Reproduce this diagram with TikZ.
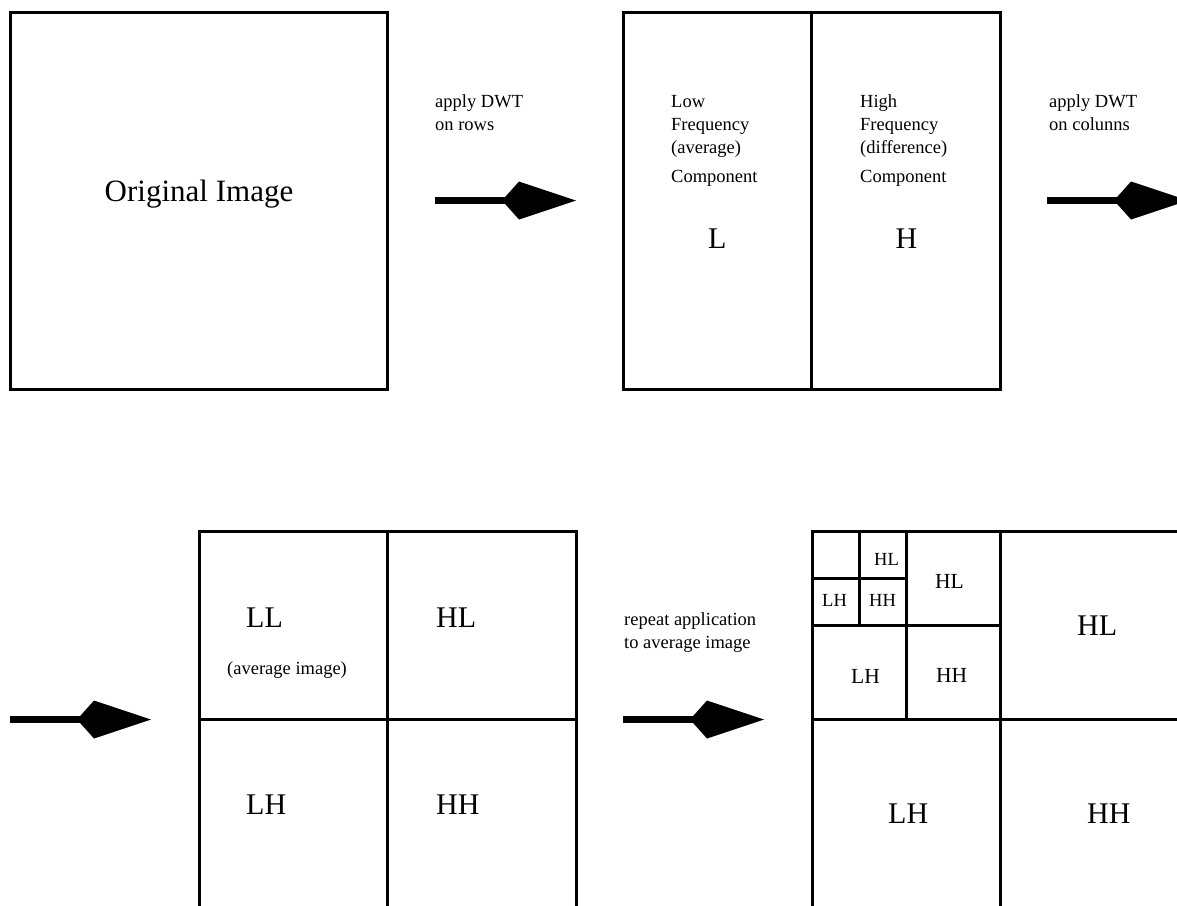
\documentclass[tikz,border=0pt]{standalone}
\usepackage{fontspec}
\setmainfont{Liberation Serif}
\usetikzlibrary{arrows.meta,positioning}

\begin{document}
\begin{tikzpicture}[x=1pt,y=-1pt,
  cell/.style 2 args={rectangle,draw,line width=3pt,inner sep=0pt,outer sep=0pt,minimum width=#1,minimum height=#2},
  huge/.style={font=\fontsize{31}{37}\selectfont,inner sep=0pt,anchor=base},
  big/.style={font=\fontsize{30}{36}\selectfont,inner sep=0pt,anchor=base west},
  mid/.style={font=\fontsize{21.5}{26}\selectfont,inner sep=0pt,anchor=base west},
  small/.style={font=\fontsize{18.5}{23}\selectfont,inner sep=0pt,anchor=base west,align=left},
  dwtarrow/.style={line width=6.5pt,-{Kite[length=74pt,width=38pt,inset=17pt,line width=0pt]}},
]
\useasboundingbox (0,0) rectangle (1177,905);
\clip (0,0) rectangle (1177,905);

% TOP ROW: ORIGINAL + ROW TRANSFORM
\node[cell={377pt}{377pt}] (orig) at (199,200.5) {};
\node[cell={188.5pt}{377pt}] (lowband) at (717.25,200.5) {};
\node[cell={188.5pt}{377pt},right=0pt of lowband] (highband) {};

% BOTTOM LEFT: ONE LEVEL
\node[cell={188.5pt}{188.5pt}] (llband) at (293.25,625.25) {};
\node[cell={188.5pt}{188.5pt},right=0pt of llband] (hlband) {};
\node[cell={188.5pt}{188.5pt},below=0pt of llband] (lhband) {};
\node[cell={188.5pt}{188.5pt},right=0pt of lhband] (hhband) {};

% BOTTOM RIGHT: THREE LEVELS
\node[cell={188.5pt}{188.5pt}] (rhl) at (1094.75,625.25) {};
\node[cell={188.5pt}{188.5pt}] (rlh) at (906.25,813.75) {};
\node[cell={188.5pt}{188.5pt},right=0pt of rlh] (rhh) {};
\node[cell={94.25pt}{94.25pt}] (mhl) at (953.375,578.125) {};
\node[cell={94.25pt}{94.25pt}] (mlh) at (859.125,672.375) {};
\node[cell={94.25pt}{94.25pt},right=0pt of mlh] (mhh) {};
\node[cell={47.125pt}{47.125pt}] (sll) at (835.5625,554.5625) {};
\node[cell={47.125pt}{47.125pt},right=0pt of sll] (shl) {};
\node[cell={47.125pt}{47.125pt},below=0pt of sll] (slh) {};
\node[cell={47.125pt}{47.125pt},right=0pt of slh] (shh) {};

% LABELS (multi-line ones sit on their last baseline)
\node[huge] (origlbl) at (199,201) {Original Image};
\node[small] (lowlbl) at (671,182) {Low\\Frequency\\(average)\\[6pt]Component};
\node[small] (highlbl) at (860,182) {High\\Frequency\\(difference)\\[6pt]Component};
\node[big,anchor=base] (ltxt) at (717.25,248) {L};
\node[big,anchor=base] (htxt) at (906.5,248) {H};
\node[big] (lltxt) at (246,627) {LL};
\node[small] (avgtxt) at (227,674) {(average image)};
\node[big] (hltxt) at (436,627) {HL};
\node[big] (lhtxt) at (246,814) {LH};
\node[big] (hhtxt) at (436,814) {HH};
\node[big] (rhltxt) at (1077,635) {HL};
\node[big] (rlhtxt) at (888,823) {LH};
\node[big] (rhhtxt) at (1087,823) {HH};
\node[mid] (mhltxt) at (935,588) {HL};
\node[mid] (mlhtxt) at (851,683) {LH};
\node[mid] (mhhtxt) at (936,682) {HH};
\node[small] (shltxt) at (874,565) {HL};
\node[small] (slhtxt) at (822,606) {LH};
\node[small] (shhtxt) at (869,606) {HH};
\node[small] (rowslbl) at (435,130) {apply DWT\\on rows};
\node[small] (colslbl) at (1049,130) {apply DWT\\on colunns};
\node[small] (repeatlbl) at (624,648) {repeat application\\to average image};

% ARROWS
\coordinate (colsend) at ([xshift=188pt]highband.east);
\coordinate (rowsin) at ([xshift=-189pt]lhband.north west);
\draw[dwtarrow] ([xshift=47pt]orig.east) -- ([xshift=-47pt]lowband.west);
\draw[dwtarrow] ([xshift=47pt]highband.east) -- (colsend);
\draw[dwtarrow] (rowsin) -- ([xshift=-48pt]lhband.north west);
\draw[dwtarrow] ([xshift=47pt]hhband.north east) -- ([xshift=-48pt]rlh.north west);
\end{tikzpicture}
\end{document}
